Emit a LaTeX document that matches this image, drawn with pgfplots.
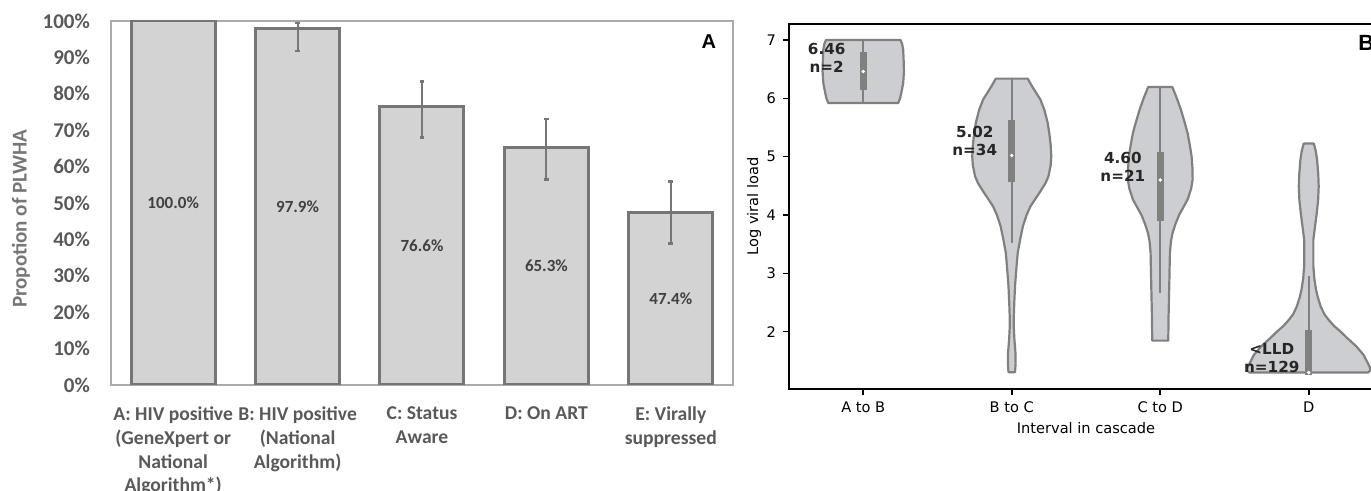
\documentclass[border=0pt]{standalone}
\usepackage{pgfplots}
\usepackage{pgfplotstable}
\pgfplotsset{compat=1.18}
\usepackage{fontspec}
\setmainfont{Carlito}
\newfontfamily\dejavu{DejaVu Sans}
\newfontfamily\arialb{Liberation Sans}

\definecolor{barfill}{RGB}{211,211,211}
\definecolor{baredge}{RGB}{118,118,118}
\definecolor{framegray}{RGB}{170,170,170}
\definecolor{ticktext}{RGB}{89,89,89}
\definecolor{labgray}{RGB}{118,118,118}
\definecolor{valtext}{RGB}{64,64,64}
\definecolor{vfill}{RGB}{204,206,210}
\definecolor{vedge}{RGB}{128,128,128}
\definecolor{annot}{RGB}{38,38,38}

\pgfplotstableread{
x y ep em
0 100.0 0 0
}\cascadeA
\pgfplotstableread{
x y ep em
1 97.9 1.6 6.1
2 76.6 6.7 8.6
3 65.3 7.8 8.8
4 47.4 8.5 8.5
}\cascadeB

\begin{document}
\begin{tikzpicture}
\useasboundingbox (0,0) rectangle (685.5pt,245.5pt);
\clip (0,0) rectangle (685.5pt,245.5pt);

% ---------------- Panel A ----------------
\begin{axis}[
  at={(55.5pt,53pt)}, anchor=south west,
  scale only axis, width=311pt, height=182pt,
  xmin=-0.5, xmax=4.5, ymin=0, ymax=100,
  axis line style={draw=framegray, line width=0.6pt},
  major tick length=0pt,
  ytick={0,10,...,100},
  yticklabel={\pgfmathprintnumber{\tick}\%},
  /pgf/number format/assume math mode=true,
  yticklabel style={font=\bfseries\fontsize{10.5}{12}\selectfont, text=ticktext, xshift=-7pt},
  xtick={0,1,2,3,4},
  xticklabels={{A: HIV positive\\(GeneXpert or\\National\\Algorithm*)},{B: HIV positive\\(National\\Algorithm)},{C: Status\\Aware},{D: On ART},{E: Virally\\suppressed}},
  xticklabel style={align=center, font=\bfseries\fontsize{9.8}{11.8}\selectfont, text=ticktext, yshift=-7.5pt},
  ylabel={Propotion of PLWHA},
  ylabel style={at={(axis description cs:-0.1447,0.457)}, anchor=center, font=\bfseries\fontsize{10.5}{12}\selectfont, text=labgray},
  bar width=42pt, bar shift=0pt,
  visualization depends on=y \as \rawy,
  nodes near coords={\pgfmathprintnumber[fixed,fixed zerofill,precision=1]{\pgfplotspointmeta}\%},
  every node near coord/.append style={font=\bfseries\fontsize{8.5}{10}\selectfont, text=valtext, anchor=center, shift={(axis direction cs:0,-\rawy/2)}},
]
\addplot[ybar, fill=barfill, draw=baredge, line width=1.5pt]
  table[x=x, y=y] {\cascadeA};
\addplot[ybar, fill=barfill, draw=baredge, line width=1.5pt,
  error bars/.cd, y dir=both, y explicit,
  error bar style={line width=1pt, draw=baredge},
  error mark options={rotate=90, mark size=1.2pt, line width=1.3pt, draw=baredge}]
  table[x=x, y=y, y error plus=ep, y error minus=em] {\cascadeB};
\node[font=\arialb\bfseries\fontsize{10}{12}\selectfont, inner sep=0pt] at (axis cs:4.306,94.2) {A};
\end{axis}

% ---------------- Panel B ----------------
\begin{axis}[
  at={(394.5pt,51pt)}, anchor=south west,
  scale only axis, width=297pt, height=182.5pt,
  xmin=-0.5, xmax=3.5, ymin=1.018, ymax=7.274,
  axis line style={line width=0.8pt, black},
  tick align=outside, major tick length=3pt,
  tick style={line width=0.8pt, black},
  xtick={0,1,2,3}, xticklabels={A to B, B to C, C to D, D},
  ytick={2,3,4,5,6,7},
  xtick pos=left, ytick pos=left,
  ticklabel style={font=\dejavu\fontsize{7.3}{9}\selectfont},
  /pgf/number format/assume math mode=true,
  xlabel={Interval in cascade}, ylabel={Log viral load},
  label style={font=\dejavu\fontsize{7.3}{9}\selectfont},
  xlabel style={at={(axis description cs:0.5,-0.106)}, anchor=center},
  ylabel style={at={(axis description cs:-0.0589,0.5)}, anchor=center},
]
% Violin A to B
\addplot[fill=vfill, draw=vedge, line width=1.1pt, line join=round] coordinates {
 (0.236,5.92) (0.248,6.00) (0.256,6.09) (0.269,6.26) (0.274,6.46) (0.272,6.65) (0.269,6.83) (0.262,6.93) (0.251,7.00)
 (-0.251,7.00) (-0.262,6.93) (-0.269,6.83) (-0.272,6.65) (-0.274,6.46) (-0.269,6.26) (-0.256,6.09) (-0.248,6.00) (-0.236,5.92)
} -- cycle;
% Violin B to C
\addplot[fill=vfill, draw=vedge, line width=1.1pt, line join=round] coordinates {
 (1.022,1.304) (1.026,1.45) (1.025,1.636) (1.018,1.864) (1.014,2.05) (1.013,2.207) (1.017,2.5) (1.022,2.778) (1.030,3.05)
 (1.040,3.35) (1.058,3.6) (1.075,3.806) (1.100,4.0) (1.126,4.149) (1.165,4.3) (1.193,4.406) (1.228,4.55) (1.247,4.663)
 (1.262,4.85) (1.266,5.006) (1.262,5.2) (1.253,5.4) (1.242,5.578) (1.220,5.8) (1.193,5.978) (1.163,6.1) (1.137,6.206)
 (1.120,6.28) (1.108,6.338)
 (0.892,6.338) (0.880,6.28) (0.863,6.206) (0.837,6.1) (0.807,5.978) (0.780,5.8) (0.758,5.578) (0.747,5.4) (0.738,5.2)
 (0.734,5.006) (0.738,4.85) (0.753,4.663) (0.772,4.55) (0.807,4.406) (0.835,4.3) (0.874,4.149) (0.900,4.0) (0.925,3.806)
 (0.942,3.6) (0.960,3.35) (0.970,3.05) (0.978,2.778) (0.983,2.5) (0.987,2.207) (0.986,2.05) (0.982,1.864) (0.975,1.636)
 (0.974,1.45) (0.978,1.304)
} -- cycle;
% Violin C to D
\addplot[fill=vfill, draw=vedge, line width=1.1pt, line join=round] coordinates {
 (2.054,1.847) (2.056,2.265) (2.061,2.836) (2.065,3.35) (2.072,3.55) (2.083,3.693) (2.103,3.85) (2.128,4.007) (2.155,4.13)
 (2.184,4.264) (2.208,4.45) (2.218,4.606) (2.217,4.8) (2.211,5.006) (2.199,5.2) (2.184,5.406) (2.163,5.6) (2.139,5.806)
 (2.112,6.0) (2.081,6.195)
 (1.919,6.195) (1.888,6.0) (1.861,5.806) (1.837,5.6) (1.816,5.406) (1.801,5.2) (1.789,5.006) (1.783,4.8) (1.782,4.606)
 (1.792,4.45) (1.816,4.264) (1.845,4.13) (1.872,4.007) (1.897,3.85) (1.917,3.693) (1.928,3.55) (1.935,3.35) (1.939,2.836)
 (1.944,2.265) (1.946,1.847)
} -- cycle;
% Violin D
\addplot[fill=vfill, draw=vedge, line width=1.1pt, line join=round] coordinates {
 (3.400,1.300) (3.415,1.34) (3.410,1.40) (3.390,1.50) (3.370,1.60) (3.320,1.75) (3.255,1.90) (3.215,2.0) (3.170,2.1)
 (3.135,2.2) (3.105,2.3) (3.080,2.435) (3.060,2.6) (3.049,2.72) (3.038,2.9) (3.031,3.12) (3.031,3.58) (3.042,3.8)
 (3.054,4.035) (3.063,4.25) (3.067,4.49) (3.064,4.7) (3.056,4.95) (3.047,5.1) (3.034,5.224)
 (2.966,5.224) (2.953,5.1) (2.944,4.95) (2.936,4.7) (2.933,4.49) (2.937,4.25) (2.946,4.035) (2.958,3.8) (2.969,3.58)
 (2.969,3.12) (2.962,2.9) (2.951,2.72) (2.940,2.6) (2.920,2.435) (2.895,2.3) (2.865,2.2) (2.830,2.1) (2.785,2.0)
 (2.745,1.90) (2.680,1.75) (2.630,1.60) (2.610,1.50) (2.590,1.40) (2.585,1.34) (2.600,1.300)
} -- cycle;
% whiskers
\addplot[draw=vedge, line width=1pt] coordinates {(0,5.92) (0,7.0)};
\addplot[draw=vedge, line width=1pt] coordinates {(1,3.52) (1,6.33)};
\addplot[draw=vedge, line width=1pt] coordinates {(2,2.67) (2,6.19)};
\addplot[draw=vedge, line width=1pt] coordinates {(3,1.28) (3,2.95)};
% quartile boxes
\addplot[draw=vedge, line width=3.5pt] coordinates {(0,6.14) (0,6.79)};
\addplot[draw=vedge, line width=3.5pt] coordinates {(1,4.56) (1,5.62)};
\addplot[draw=vedge, line width=3.5pt] coordinates {(2,3.89) (2,5.08)};
\addplot[draw=vedge, line width=3.5pt] coordinates {(3,1.26) (3,2.03)};
% medians
\addplot[only marks, mark=*, mark size=0.7pt, mark options={fill=white, draw=white}] coordinates {(0,6.46) (1,5.02) (2,4.60) (3,1.30)};
% annotations
\node[font=\dejavu\bfseries\fontsize{7.6}{8.9}\selectfont, text=annot, align=center, inner sep=0pt] at (axis cs:-0.246,6.70) {6.46\\n=2};
\node[font=\dejavu\bfseries\fontsize{7.6}{8.9}\selectfont, text=annot, align=center, inner sep=0pt] at (axis cs:0.751,5.27) {5.02\\n=34};
\node[font=\dejavu\bfseries\fontsize{7.6}{8.9}\selectfont, text=annot, align=center, inner sep=0pt] at (axis cs:1.748,4.83) {4.60\\n=21};
\node[font=\dejavu\bfseries\fontsize{7.6}{8.9}\selectfont, text=annot, align=center, inner sep=0pt] at (axis cs:2.751,1.544) {<LLD\\n=129};
\node[font=\arialb\bfseries\fontsize{11}{13}\selectfont, inner sep=0pt, anchor=west] at (axis cs:3.332,6.95) {B};
\end{axis}
\end{tikzpicture}
\end{document}
